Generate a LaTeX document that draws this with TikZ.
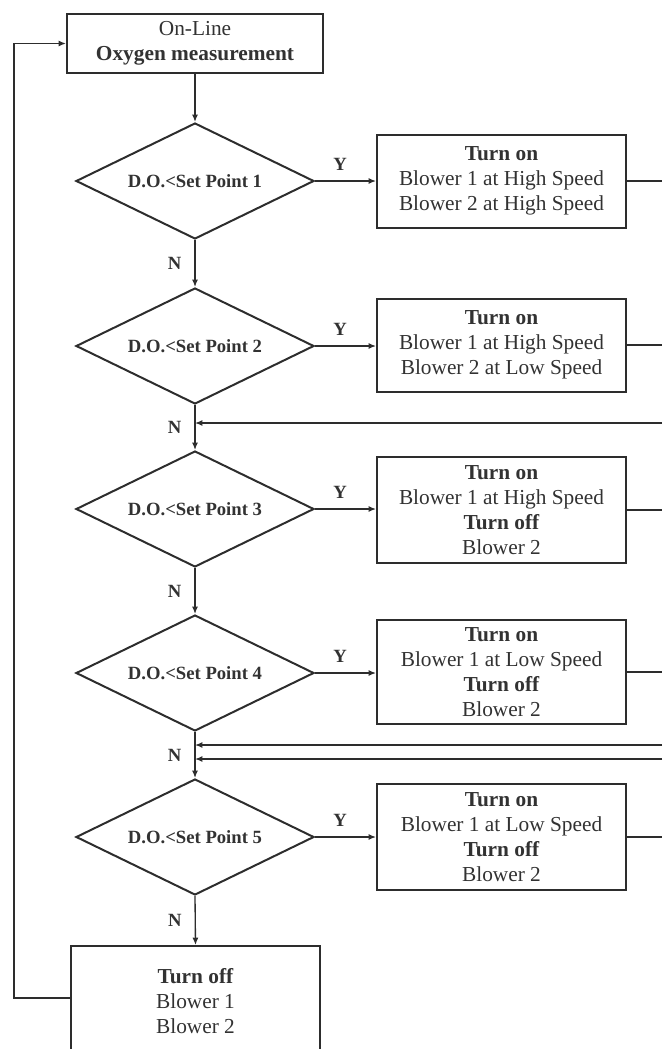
\documentclass[tikz,border=0pt]{standalone}
\usepackage{fontspec}
\setmainfont{Liberation Serif}
\usepackage{tikz}
\usetikzlibrary{shapes.geometric,arrows.meta}

\begin{document}
\begin{tikzpicture}[x=0.75pt,y=0.75pt,yscale=-1,xscale=1,
    line/.style={draw={rgb,255:red,45;green,45;blue,45},line width=1pt},
    arr/.style={line,-{Latex[length=5.5pt,width=4.5pt]}},
    box/.style={draw={rgb,255:red,45;green,45;blue,45},line width=1.5pt,rectangle,align=center,
        text={rgb,255:red,50;green,50;blue,50},inner sep=0pt,minimum width=186.75pt,
        font=\fontsize{16}{18.75}\selectfont},
    test/.style={draw={rgb,255:red,45;green,45;blue,45},line width=1.5pt,diamond,aspect=2.05,inner sep=0pt,
        minimum width=178.5pt,minimum height=87pt,text={rgb,255:red,50;green,50;blue,50},
        font=\fontsize{14}{17}\selectfont\bfseries},
    yn/.style={font=\fontsize{14}{17}\selectfont\bfseries,text={rgb,255:red,50;green,50;blue,50},inner sep=0.75pt}]
                  %set diagram left start at 0, and has height of 1049
                  \useasboundingbox (0,0) rectangle (662,1049);
                  \clip (0,0) rectangle (662,1049);

                  % Start box
                  \node [box,minimum width=192pt,minimum height=44.25pt] (online) at (195,43.5) {On-Line\\\textbf{Oxygen measurement}};

                  % Decisions
                  \node [test] (d1) at (195,181) {D.O.<Set Point 1};
                  \node [test] (d2) at (195,346) {D.O.<Set Point 2};
                  \node [test] (d3) at (195,509) {D.O.<Set Point 3};
                  \node [test] (d4) at (195,673) {D.O.<Set Point 4};
                  \node [test] (d5) at (195,837) {D.O.<Set Point 5};

                  % Actions
                  \node [box,minimum height=69.75pt] (b1) at (501.5,181) {\textbf{Turn on}\\Blower 1 at High Speed\\Blower 2 at High Speed};
                  \node [box,minimum height=69.75pt] (b2) at (501.5,345) {\textbf{Turn on}\\Blower 1 at High Speed\\Blower 2 at Low Speed};
                  \node [box,minimum height=80pt] (b3) at (501.5,510) {\textbf{Turn on}\\Blower 1 at High Speed\\\textbf{Turn off}\\Blower 2};
                  \node [box,minimum height=78pt] (b4) at (501.5,672) {\textbf{Turn on}\\Blower 1 at Low Speed\\\textbf{Turn off}\\Blower 2};
                  \node [box,minimum height=79pt] (b5) at (501.5,837) {\textbf{Turn on}\\Blower 1 at Low Speed\\\textbf{Turn off}\\Blower 2};

                  % Stop box
                  \node [box,minimum height=82.5pt] (off) at (195.5,1001) {\textbf{Turn off}\\Blower 1\\Blower 2};

                  % Free ends at the right edge and the left feedback line
                  \coordinate (r1) at (662,423);
                  \coordinate (r2) at (662,745);
                  \coordinate (r3) at (662,759);
                  \coordinate (fb) at (14,500);

                  %Straight Lines: main line
                  \draw [arr] (online) -- (d1);
                  \draw [arr] (d1.south) -- (d2.north) node [yn,midway,anchor=east,xshift=-9pt] {N};
                  \draw [arr] (d2.south) -- (d3.north) node [yn,midway,anchor=east,xshift=-9pt] {N};
                  \draw [arr] (d3.south) -- (d4.north) node [yn,midway,anchor=east,xshift=-9pt] {N};
                  \draw [arr] (d4.south) -- (d5.north) node [yn,midway,anchor=east,xshift=-9pt] {N};
                  \draw [arr] (d5.south) -- (off.north) node [yn,midway,anchor=east,xshift=-9pt] {N};

                  %Straight Lines: yes branches
                  \draw [arr] (d1.east) -- (b1.west) node [yn,midway,above,xshift=-4pt,yshift=7pt] {Y};
                  \draw [arr] (d2.east) -- (b2.west |- d2.east) node [yn,midway,above,xshift=-4pt,yshift=7pt] {Y};
                  \draw [arr] (d3.east) -- (b3.west |- d3.east) node [yn,midway,above,xshift=-4pt,yshift=7pt] {Y};
                  \draw [arr] (d4.east) -- (b4.west |- d4.east) node [yn,midway,above,xshift=-4pt,yshift=7pt] {Y};
                  \draw [arr] (d5.east) -- (b5.west |- d5.east) node [yn,midway,above,xshift=-4pt,yshift=7pt] {Y};

                  %Straight Lines: outputs to the right
                  \draw [line] (b1.east) -- (b1.east -| r1);
                  \draw [line] (b2.east) -- (b2.east -| r1);
                  \draw [line] (b3.east) -- (b3.east -| r1);
                  \draw [line] (b4.east) -- (b4.east -| r1);
                  \draw [line] (b5.east) -- (b5.east -| r1);

                  %Straight Lines: returns
                  \draw [arr] (r1) -- (r1 -| d2.south);
                  \draw [arr] (r2) -- (r2 -| d4.south);
                  \draw [arr] (r3) -- (r3 -| d4.south);

                  %Straight Lines: feedback
                  \draw [arr] (off.west |- 0,998) -| (fb) |- (online.west);

              \end{tikzpicture}
\end{document}
